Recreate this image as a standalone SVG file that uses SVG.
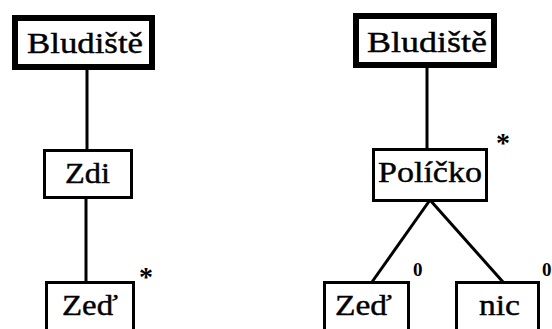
<svg xmlns="http://www.w3.org/2000/svg" width="552" height="329" viewBox="0 0 552 329">
<style>
.box{fill:#fff;stroke:#000;stroke-width:3}
.thick{fill:#fff;stroke:#000;stroke-width:6}
.t{font-family:'Liberation Serif','Times New Roman',serif;font-size:29px;fill:#000;stroke:#000;stroke-width:0.4}
.m{font-family:'Liberation Serif','Times New Roman',serif;font-weight:bold;fill:#000}
.c{fill:none;stroke:#000;stroke-width:3}
</style>
<rect width="552" height="329" fill="#fff"/>
<g id="connectors">
<line class="c" x1="87" y1="68" x2="87" y2="150"/>
<line class="c" x1="86" y1="198" x2="86" y2="282"/>
<line class="c" x1="427" y1="66" x2="427" y2="149"/>
<line class="c" x1="430" y1="200" x2="372" y2="282"/>
<line class="c" x1="430" y1="200" x2="503" y2="282"/>
</g>
<g id="bludiste1">
<rect class="thick" x="15" y="18" width="137" height="49"/>
<text class="t" x="27" y="53" textLength="116" lengthAdjust="spacingAndGlyphs">Bludiště</text>
</g>
<g id="zdi">
<rect class="box" x="44.5" y="150.5" width="87" height="47"/>
<text class="t" x="65" y="183" textLength="45" lengthAdjust="spacingAndGlyphs">Zdi</text>
</g>
<g id="zed1">
<rect class="box" x="46.5" y="282.5" width="87" height="60"/>
<text class="t" x="62" y="315" textLength="56" lengthAdjust="spacingAndGlyphs">Zeď</text>
<text class="m" x="139" y="286" font-size="28">*</text>
</g>
<g id="bludiste2">
<rect class="thick" x="356" y="16" width="138" height="49"/>
<text class="t" x="367" y="52" textLength="120" lengthAdjust="spacingAndGlyphs">Bludiště</text>
</g>
<g id="policko">
<rect class="box" x="373.5" y="149.5" width="113" height="51"/>
<text class="t" x="378" y="182" textLength="104" lengthAdjust="spacingAndGlyphs">Políčko</text>
<text class="m" x="496" y="152" font-size="28">*</text>
</g>
<g id="zed2">
<rect class="box" x="324.5" y="282.5" width="84" height="60"/>
<text class="t" x="335" y="315" textLength="57" lengthAdjust="spacingAndGlyphs">Zeď</text>
<text class="m" x="413" y="276" font-size="19">0</text>
</g>
<g id="nic">
<rect class="box" x="456.5" y="282.5" width="82" height="60"/>
<text class="t" x="479" y="315" textLength="41" lengthAdjust="spacingAndGlyphs">nic</text>
<text class="m" x="542" y="276" font-size="19">0</text>
</g>
</svg>
